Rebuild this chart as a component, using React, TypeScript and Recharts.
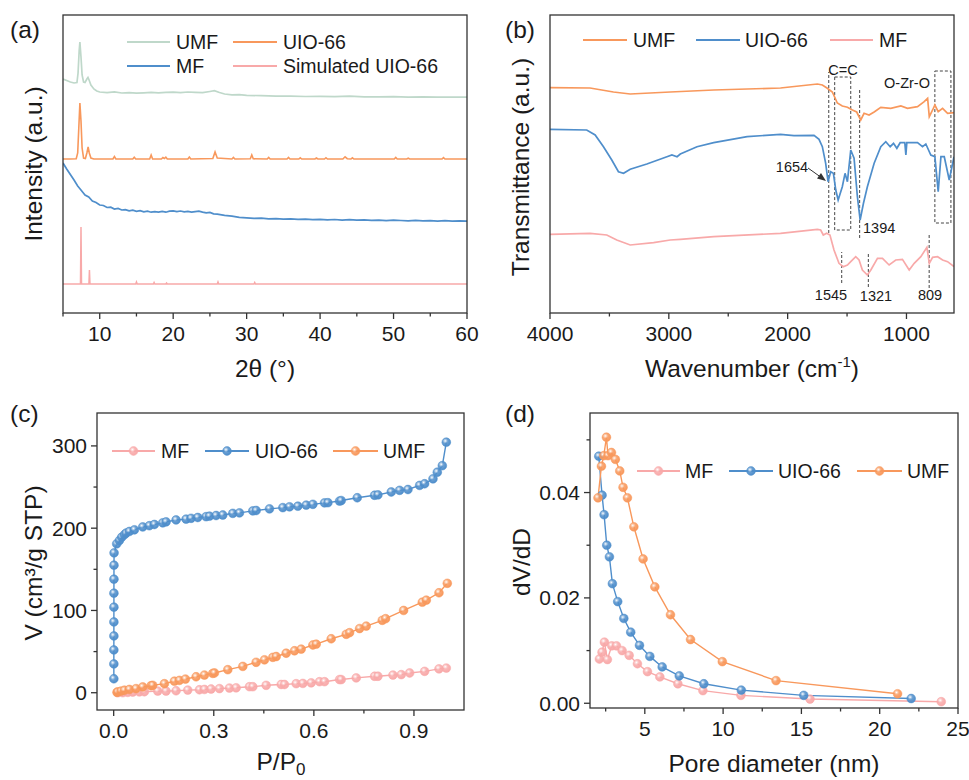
import React from 'react';
import { LineChart, Line, XAxis, YAxis, ReferenceLine, ReferenceArea } from 'recharts';

const FONT = '"Liberation Sans", Arial, Helvetica, sans-serif';
const INK = '#1a1a1a';
const AXIS = '#333';

const GREEN = '#bfd8ca';
const ORANGE = '#f8985c';
const BLUE = '#4f8ecb';
const PINK = '#f8a9a9';

// (a) XRD patterns: [2theta, intensity a.u.]
const xrdUMF = [
  [5, 234], [5.5, 232.5], [6, 231], [6.5, 230], [6.9, 230.5], [7.05, 240], [7.2, 262], [7.3, 271], [7.45, 256],
  [7.6, 238], [7.8, 231], [8.0, 230.5], [8.25, 234], [8.4, 235.5], [8.55, 233], [8.8, 228], [9.2, 224], [9.6, 222],
  [10, 221], [11, 220.3], [12, 221.2], [13, 220], [14, 220.4], [15, 219.8], [16, 220.2], [17, 220.6], [18, 220.2],
  [19, 220.7], [20, 220.9], [21, 220.4], [22, 221], [23, 220.6], [24, 220.3], [25, 221.5], [25.6, 222.3], [26.3, 220.5],
  [27, 219], [28, 218.2], [29, 218.4], [30, 217.6], [32, 217.4], [34, 216.8], [36, 216.9], [38, 216.5], [40, 216.7],
  [42, 216.3], [44, 216.8], [46, 216.1], [48, 216.2], [50, 216.4], [52, 215.9], [54, 216.1], [56, 215.8], [58, 216], [60, 215.8],
];
const xrdUIO = [
  [5, 154], [6, 154], [6.8, 154.3], [7.0, 160], [7.15, 185], [7.3, 210], [7.45, 192], [7.6, 165], [7.8, 155], [8.05, 154.5],
  [8.25, 160], [8.42, 166], [8.58, 160], [8.8, 155], [9.2, 154], [11.8, 154], [12.0, 156.5], [12.2, 154], [14.5, 154],
  [14.7, 155.8], [14.9, 154], [16.8, 154], [17.0, 158], [17.2, 154], [18.4, 154], [18.6, 155.5], [18.8, 154.5], [19.0, 155.8],
  [19.2, 154], [22.0, 154], [22.2, 156], [22.4, 154], [25.4, 154.5], [25.7, 161], [26.0, 155], [28.0, 154], [28.2, 155.5],
  [28.4, 154], [30.5, 154.2], [30.7, 158], [30.9, 154.2], [32.8, 154], [33.0, 155.6], [33.2, 154], [35.5, 154], [35.7, 155.5],
  [35.9, 154], [37.1, 154], [37.3, 155.2], [37.5, 154], [39.3, 154], [39.5, 155], [39.7, 154], [40.6, 154], [40.8, 155.3],
  [41.0, 154], [43.1, 154], [43.4, 156.2], [43.7, 154.3], [44.2, 154], [44.4, 155.2], [44.6, 154], [50.1, 154], [50.3, 155.6],
  [50.5, 154], [51.8, 154], [52.0, 154.8], [52.2, 154], [56.6, 154], [56.8, 155.4], [57.0, 154], [60, 154],
];
const xrdMF = [
  [5, 150], [5.5, 144], [6, 138.5], [6.5, 133], [7, 127], [7.5, 122.5], [8, 118], [8.5, 116], [9, 112], [9.5, 110.5],
  [10, 108], [10.5, 107.5], [11, 105.5], [11.5, 105.8], [12, 104], [12.5, 104.6], [13, 103], [13.5, 103.4], [14, 102.2],
  [14.5, 102.8], [15, 101.7], [15.5, 102.3], [16, 101.2], [16.5, 101.8], [17, 100.8], [17.5, 101.4], [18, 100.9],
  [18.5, 101.6], [19, 100.8], [19.5, 101.9], [20, 102.2], [20.5, 101.3], [21, 102], [21.5, 101.2], [22, 101.6],
  [22.5, 100.8], [23, 101.4], [23.5, 101.9], [24, 100.9], [24.5, 100.2], [25, 100.6], [25.5, 99.2], [26, 98.8],
  [27, 97.6], [28, 96.8], [29, 95.6], [30, 95.2], [31, 94.6], [32, 94.9], [33, 94.1], [34, 94.4], [35, 93.8], [36, 94.2],
  [37, 93.6], [38, 93.9], [39, 93.3], [40, 93.7], [41, 93.2], [42, 93.5], [43, 92.9], [44, 93.3], [45, 92.8], [46, 93.1],
  [47, 92.6], [48, 92.9], [49, 92.4], [50, 92.9], [51, 92.5], [52, 92.2], [53, 92.6], [54, 92.1], [55, 92.4], [56, 91.9],
  [57, 92.3], [58, 91.8], [59, 92.1], [60, 91.9],
];
const xrdSim = [
  [5, 29], [7.38, 29], [7.45, 86], [7.52, 29], [8.53, 29], [8.6, 43], [8.67, 29], [14.9, 29], [15.0, 31], [15.1, 29],
  [17.3, 29], [17.4, 30.5], [17.5, 29], [19.0, 29], [19.1, 30], [19.2, 29], [26.0, 29], [26.1, 31], [26.2, 29],
  [31.0, 29], [31.1, 30.5], [31.2, 29], [60, 29],
];

// (b) FTIR: [wavenumber, transmittance a.u.]
const ftirUMF = [
  [4000, 225.3], [3663, 225], [3466, 221], [3325, 219], [2988, 221], [2622, 223], [2060, 225], [1750, 229], [1708, 228],
  [1666, 224.7], [1624, 221], [1582, 210], [1540, 207], [1497, 205.7], [1455, 203], [1419, 201], [1385, 193], [1357, 199.7],
  [1315, 198], [1272, 201], [1216, 205.7], [1132, 204.7], [1047, 207], [991, 204.7], [907, 206.3], [851, 211.3], [822, 214.7],
  [808, 196.3], [780, 203], [761, 208], [733, 201.3], [696, 204.7], [654, 199.7], [600, 200.3],
];
const ftirUIO = [
  [4000, 183.7], [3691, 183], [3620, 178], [3550, 166.3], [3480, 153], [3424, 141.3], [3381, 139.7], [3325, 143.7],
  [3185, 149], [3016, 156.3], [2974, 158], [2931, 156.3], [2903, 159], [2763, 166.3], [2622, 170.3], [2341, 176.3],
  [2060, 178.7], [1947, 177.3], [1778, 177.7], [1736, 173.7], [1708, 166.3], [1680, 149.7], [1660, 131.3], [1638, 141.3],
  [1615, 139.7], [1595, 123], [1575, 113], [1540, 126.3], [1517, 139.7], [1497, 131.3], [1469, 163], [1441, 154.7],
  [1413, 116.3], [1390, 93], [1362, 109.7], [1329, 126.3], [1272, 149.7], [1216, 166.3], [1174, 171.3], [1137, 166.3],
  [1109, 169.7], [1081, 164.7], [1053, 170.3], [1014, 170.3], [1005, 158], [997, 170.3], [907, 170.3], [865, 166.3],
  [837, 169], [795, 158], [761, 156.3], [733, 121.3], [710, 156.3], [682, 156.3], [640, 133], [600, 156.3],
];
const ftirMF = [
  [4000, 78.7], [3663, 79.7], [3522, 78], [3438, 73], [3325, 68], [3128, 70.3], [2988, 73], [2903, 73.7], [2622, 76.3],
  [2060, 79.7], [1750, 83.7], [1722, 83], [1700, 78], [1672, 79.7], [1644, 78], [1610, 63], [1568, 49.7], [1532, 46.3],
  [1497, 48], [1469, 51.3], [1427, 56.3], [1399, 53], [1371, 43], [1329, 38], [1300, 43], [1244, 54.7], [1202, 54.7],
  [1146, 48], [1090, 53], [1034, 53.7], [977, 43], [935, 49.7], [879, 56.3], [828, 65.7], [808, 49.7], [780, 55.7],
  [738, 56.3], [696, 53], [654, 51.3], [600, 46.3],
];

// (c) N2 isotherms: [P/P0, V]
const isoMF = [
  [0.012, 0], [0.027, 0], [0.042, 0.4], [0.057, 0.8], [0.077, 1], [0.092, 1.2], [0.132, 2], [0.157, 2], [0.187, 2.4],
  [0.222, 3.2], [0.257, 3.6], [0.272, 4], [0.292, 4.5], [0.317, 5], [0.347, 5.7], [0.367, 6], [0.407, 7.3], [0.417, 7.3],
  [0.457, 9], [0.502, 10], [0.512, 10], [0.547, 11], [0.567, 11.3], [0.592, 12], [0.617, 13.4], [0.632, 13.4], [0.677, 16],
  [0.682, 16], [0.727, 18], [0.782, 20], [0.792, 20], [0.837, 21.5], [0.862, 22], [0.887, 24], [0.932, 26], [0.975, 29],
  [0.997, 30],
];
const isoUIO = [
  [0.0005, 17], [0.0005, 35], [0.0005, 52], [0.0006, 69], [0.0006, 86], [0.0007, 104], [0.0007, 121], [0.0008, 138],
  [0.0009, 155], [0.0012, 170], [0.009, 181], [0.017, 185], [0.024, 189], [0.032, 192], [0.037, 194], [0.047, 196],
  [0.062, 198], [0.087, 201.5], [0.107, 203], [0.122, 204.5], [0.147, 206.5], [0.157, 207.7], [0.187, 210], [0.217, 211],
  [0.232, 212], [0.252, 213], [0.277, 214], [0.287, 214.6], [0.307, 215.4], [0.327, 216], [0.357, 218], [0.377, 218.6],
  [0.417, 221], [0.427, 221.5], [0.467, 223.5], [0.507, 225], [0.527, 226], [0.552, 226.7], [0.577, 228], [0.597, 229],
  [0.632, 230.8], [0.642, 231], [0.677, 233], [0.682, 233.6], [0.73, 237], [0.782, 240], [0.792, 240.5], [0.832, 244],
  [0.857, 246], [0.882, 247], [0.917, 252], [0.932, 254], [0.957, 260], [0.97, 268], [0.985, 276], [0.997, 304.5],
];
const isoUMF = [
  [0.01, 0.5], [0.012, 1], [0.022, 2], [0.032, 3], [0.047, 4], [0.067, 5], [0.087, 7], [0.112, 8.5], [0.117, 9],
  [0.152, 11], [0.182, 14], [0.197, 15], [0.215, 16.6], [0.247, 19.4], [0.272, 21.5], [0.297, 23.5], [0.302, 24],
  [0.342, 28], [0.387, 32], [0.427, 37], [0.452, 40], [0.477, 43], [0.487, 44], [0.517, 48], [0.542, 51], [0.562, 53],
  [0.597, 58], [0.607, 59], [0.652, 65.6], [0.697, 71], [0.707, 73], [0.737, 78], [0.757, 81], [0.805, 88], [0.815, 90],
  [0.869, 100], [0.925, 110], [0.937, 112.5], [0.975, 121.5], [1.0, 133],
];

// (d) pore size distribution: [D nm, dV/dD]
const psdMF = [
  [2.1, 0.0084], [2.27, 0.0097], [2.42, 0.0116], [2.61, 0.0083], [2.89, 0.0109], [3.19, 0.0109], [3.55, 0.01],
  [4.0, 0.0091], [4.53, 0.0075], [5.17, 0.006], [5.96, 0.005], [7.11, 0.0037], [8.71, 0.0024], [11.14, 0.0015],
  [15.55, 0.0008], [23.93, 0.0003],
];
const psdUIO = [
  [2.06, 0.0469], [2.27, 0.0395], [2.4, 0.0358], [2.57, 0.03], [2.74, 0.0278], [2.93, 0.0227], [3.27, 0.0193],
  [3.66, 0.0161], [4.1, 0.0135], [4.66, 0.011], [5.32, 0.0089], [6.11, 0.0069], [7.2, 0.0052], [8.77, 0.0037],
  [11.16, 0.0025], [15.15, 0.0015], [22.01, 0.0009],
];
const psdUMF = [
  [2.01, 0.039], [2.23, 0.045], [2.38, 0.047], [2.55, 0.0505], [2.65, 0.047], [2.87, 0.0476], [3.12, 0.0463],
  [3.4, 0.0441], [3.61, 0.041], [3.89, 0.039], [4.3, 0.0335], [4.89, 0.0274], [5.64, 0.0221], [6.64, 0.0168],
  [7.92, 0.0121], [9.95, 0.0079], [13.38, 0.0043], [21.14, 0.0018],
];

const ticksA = [5, 10, 15, 20, 25, 30, 35, 40, 45, 50, 55, 60];
const majorA = [10, 20, 30, 40, 50, 60];
const ticksB = [4000, 3500, 3000, 2500, 2000, 1500, 1000];
const majorB = [4000, 3000, 2000, 1000];
const ticksCx = [0, 0.15, 0.3, 0.45, 0.6, 0.75, 0.9];
const majorCx = [0, 0.3, 0.6, 0.9];
const ticksCy = [0, 50, 100, 150, 200, 250, 300];
const majorCy = [0, 100, 200, 300];
const ticksDx = [2.5, 5, 7.5, 10, 12.5, 15, 17.5, 20, 22.5, 25];
const majorDx = [5, 10, 15, 20, 25];
const ticksDy = [0, 0.01, 0.02, 0.03, 0.04, 0.05];
const majorDy = [0, 0.02, 0.04];

const pts = (arr: number[][]) => arr.map(([x, y]) => ({ x, y }));

const bottomTick = (majors: number[], fmt: (v: number) => string) => (p: any) => {
  const v = p.payload.value;
  const major = majors.includes(v);
  return (
    <g>
      <line x1={p.x} y1={p.y} x2={p.x} y2={p.y + (major ? 6 : 3.5)} stroke={AXIS} strokeWidth={1.3} />
      {major && (
        <text x={p.x} y={p.y + 28} textAnchor="middle" fontSize={21} fill={INK} fontFamily={FONT}>
          {fmt(v)}
        </text>
      )}
    </g>
  );
};

const leftTick = (majors: number[], fmt: (v: number) => string) => (p: any) => {
  const v = p.payload.value;
  const major = majors.includes(v);
  return (
    <g>
      <line x1={p.x} y1={p.y} x2={p.x - (major ? 6 : 3.5)} y2={p.y} stroke={AXIS} strokeWidth={1.3} />
      {major && (
        <text x={p.x - 10} y={p.y + 7.5} textAnchor="end" fontSize={21} fill={INK} fontFamily={FONT}>
          {fmt(v)}
        </text>
      )}
    </g>
  );
};

const ball = (grad: string, color: string) => (p: any) => {
  const { cx, cy, index } = p;
  if (cx == null || cy == null) return <g key={index} />;
  return <circle key={index} cx={cx} cy={cy} r={4.4} fill={`url(#${grad})`} stroke={color} strokeWidth={0.5} />;
};

// plot boxes (page pixels) used for the frames
const boxes = [
  [63, 15, 467, 313],
  [550, 15, 954, 313],
  [97, 413, 464, 710],
  [590, 413, 958, 708],
];

export default function App() {
  const dash = { stroke: '#444', strokeWidth: 1, strokeDasharray: '3 2' };
  const text = (x: number, y: number, s: any, size = 19.5, anchor: any = 'start') => (
    <text x={x} y={y} fontSize={size} fill={INK} fontFamily={FONT} textAnchor={anchor}>{s}</text>
  );
  const vtitle = (x: number, y: number, s: any) => (
    <text x={x} y={y} fontSize={24.5} fill={INK} fontFamily={FONT} textAnchor="middle" transform={`rotate(-90 ${x} ${y})`}>{s}</text>
  );
  const legLine = (x1: number, x2: number, y: number, c: string, grad?: string) => (
    <g>
      <line x1={x1} x2={x2} y1={y} y2={y} stroke={c} strokeWidth={1.8} />
      {grad && <circle cx={(x1 + x2) / 2} cy={y} r={4.4} fill={`url(#${grad})`} stroke={c} strokeWidth={0.5} />}
    </g>
  );

  return (
    <div style={{ position: 'absolute', left: 0, top: 0, width: 969, height: 780, background: '#fff' }}>
      <svg width={0} height={0} style={{ position: 'absolute' }}>
        <defs>
          {[['gPink', PINK], ['gBlue', BLUE], ['gOrange', ORANGE]].map(([id, c]) => (
            <radialGradient key={id} id={id} cx="38%" cy="35%" r="65%">
              <stop offset="0%" stopColor="#ffffff" />
              <stop offset="45%" stopColor={c} stopOpacity={0.85} />
              <stop offset="100%" stopColor={c} />
            </radialGradient>
          ))}
        </defs>
      </svg>

      {/* (a) XRD */}
      <div style={{ position: 'absolute', left: 0, top: 0 }}>
        <LineChart width={480} height={390} margin={{ top: 15, right: 13, bottom: 47, left: 63 }}>
          <XAxis type="number" dataKey="x" domain={[5, 60]} ticks={ticksA} interval={0} tickSize={0} tickMargin={0}
            tick={bottomTick(majorA, (v) => String(v))} height={30} axisLine={false} allowDataOverflow />
          <YAxis type="number" domain={[0, 298]} width={0} tick={false} tickLine={false} axisLine={false} allowDataOverflow />
          <Line data={pts(xrdSim)} dataKey="y" stroke={PINK} strokeWidth={1.5} dot={false} isAnimationActive={false} />
          <Line data={pts(xrdMF)} dataKey="y" stroke={BLUE} strokeWidth={1.7} dot={false} isAnimationActive={false} />
          <Line data={pts(xrdUIO)} dataKey="y" stroke={ORANGE} strokeWidth={1.6} dot={false} isAnimationActive={false} />
          <Line data={pts(xrdUMF)} dataKey="y" stroke={GREEN} strokeWidth={1.7} dot={false} isAnimationActive={false} />
        </LineChart>
      </div>

      {/* (b) FTIR */}
      <div style={{ position: 'absolute', left: 480, top: 0 }}>
        <LineChart width={489} height={390} margin={{ top: 15, right: 15, bottom: 47, left: 70 }}>
          <XAxis type="number" dataKey="x" domain={[600, 4000]} reversed ticks={ticksB} interval={0} tickSize={0} tickMargin={0}
            tick={bottomTick(majorB, (v) => String(v))} height={30} axisLine={false} allowDataOverflow />
          <YAxis type="number" domain={[0, 298]} width={0} tick={false} tickLine={false} axisLine={false} allowDataOverflow />
          <ReferenceLine segment={[{ x: 1654, y: 80 }, { x: 1654, y: 241 }]} {...dash} />
          <ReferenceArea x1={1604} x2={1469} y1={83} y2={236} fill="none" {...dash} />
          <ReferenceLine segment={[{ x: 1394, y: 75 }, { x: 1394, y: 223 }]} {...dash} />
          <ReferenceArea x1={761} x2={626} y1={90} y2={242} fill="none" {...dash} />
          <ReferenceLine segment={[{ x: 1545, y: 30 }, { x: 1545, y: 61 }]} {...dash} />
          <ReferenceLine segment={[{ x: 1321, y: 26 }, { x: 1321, y: 61 }]} {...dash} />
          <ReferenceLine segment={[{ x: 809, y: 25 }, { x: 809, y: 80 }]} {...dash} />
          <Line data={pts(ftirMF)} dataKey="y" stroke={PINK} strokeWidth={1.7} dot={false} isAnimationActive={false} />
          <Line data={pts(ftirUIO)} dataKey="y" stroke={BLUE} strokeWidth={1.7} dot={false} isAnimationActive={false} />
          <Line data={pts(ftirUMF)} dataKey="y" stroke={ORANGE} strokeWidth={1.7} dot={false} isAnimationActive={false} />
        </LineChart>
      </div>

      {/* (c) isotherms */}
      <div style={{ position: 'absolute', left: 0, top: 390 }}>
        <LineChart width={480} height={390} margin={{ top: 23, right: 16, bottom: 40, left: 37 }}>
          <XAxis type="number" dataKey="x" domain={[-0.05, 1.05]} ticks={ticksCx} interval={0} tickSize={0} tickMargin={0}
            tick={bottomTick(majorCx, (v) => v.toFixed(1))} height={30} axisLine={false} allowDataOverflow />
          <YAxis type="number" domain={[-21, 340]} ticks={ticksCy} interval={0} tickSize={0} tickMargin={0}
            tick={leftTick(majorCy, (v) => String(v))} width={60} axisLine={false} allowDataOverflow />
          <Line data={pts(isoMF)} dataKey="y" stroke={PINK} strokeWidth={1.4} dot={ball('gPink', PINK)} isAnimationActive={false} />
          <Line data={pts(isoUMF)} dataKey="y" stroke={ORANGE} strokeWidth={1.4} dot={ball('gOrange', ORANGE)} isAnimationActive={false} />
          <Line data={pts(isoUIO)} dataKey="y" stroke={BLUE} strokeWidth={1.4} dot={ball('gBlue', BLUE)} isAnimationActive={false} />
        </LineChart>
      </div>

      {/* (d) pore size distribution */}
      <div style={{ position: 'absolute', left: 480, top: 390 }}>
        <LineChart width={489} height={390} margin={{ top: 23, right: 11, bottom: 42, left: 40 }}>
          <XAxis type="number" dataKey="x" domain={[1.5, 25]} ticks={ticksDx} interval={0} tickSize={0} tickMargin={0}
            tick={bottomTick(majorDx, (v) => String(v))} height={30} axisLine={false} allowDataOverflow />
          <YAxis type="number" domain={[-0.0009, 0.0551]} ticks={ticksDy} interval={0} tickSize={0} tickMargin={0}
            tick={leftTick(majorDy, (v) => v.toFixed(2))} width={70} axisLine={false} allowDataOverflow />
          <Line data={pts(psdMF)} dataKey="y" stroke={PINK} strokeWidth={1.4} dot={ball('gPink', PINK)} isAnimationActive={false} />
          <Line data={pts(psdUIO)} dataKey="y" stroke={BLUE} strokeWidth={1.4} dot={ball('gBlue', BLUE)} isAnimationActive={false} />
          <Line data={pts(psdUMF)} dataKey="y" stroke={ORANGE} strokeWidth={1.4} dot={ball('gOrange', ORANGE)} isAnimationActive={false} />
        </LineChart>
      </div>

      {/* frames, titles, legends, annotations */}
      <svg width={969} height={780} style={{ position: 'absolute', left: 0, top: 0, pointerEvents: 'none' }}>
        {boxes.map(([x1, y1, x2, y2], i) => (
          <rect key={i} x={x1} y={y1} width={x2 - x1} height={y2 - y1} fill="none" stroke={AXIS} strokeWidth={1.3} />
        ))}

        {text(10, 38, '(a)', 24.5)}
        {text(505, 38, '(b)', 24.5)}
        {text(10, 422, '(c)', 24.5)}
        {text(505, 422, '(d)', 24.5)}

        {text(265, 377, '2θ (°)', 24.5, 'middle')}
        <text x={752} y={377} fontSize={24.5} fill={INK} fontFamily={FONT} textAnchor="middle">
          Wavenumber (cm<tspan fontSize={15} dy={-10}>-1</tspan><tspan dy={10}>)</tspan>
        </text>
        <text x={281} y={770} fontSize={24.5} fill={INK} fontFamily={FONT} textAnchor="middle">
          P/P<tspan fontSize={17} dy={5}>0</tspan>
        </text>
        {text(774, 772, 'Pore diameter (nm)', 24.5, 'middle')}

        {vtitle(42, 164, 'Intensity (a.u.)')}
        {vtitle(529, 167, 'Transmittance (a.u.)')}
        {vtitle(42, 563, 'V (cm³/g STP)')}
        {vtitle(530, 562, 'dV/dD')}

        {/* legend (a) */}
        {legLine(127, 170, 42, GREEN)}
        {text(176, 48.5, 'UMF')}
        {legLine(233, 277, 42, ORANGE)}
        {text(283, 48.5, 'UIO-66')}
        {legLine(127, 170, 66, BLUE)}
        {text(176, 72.5, 'MF')}
        {legLine(233, 277, 66, PINK)}
        {text(283, 72.5, 'Simulated UIO-66')}

        {/* legend (b) */}
        {legLine(583, 627, 40, ORANGE)}
        {text(633, 47, 'UMF')}
        {legLine(696, 740, 40, BLUE)}
        {text(745, 47, 'UIO-66')}
        {legLine(830, 873, 40, PINK)}
        {text(879, 47, 'MF')}

        {/* annotations (b) */}
        {text(843, 75, 'C=C', 14.5, 'middle')}
        {text(907, 88, 'O-Zr-O', 14.5, 'middle')}
        {text(792, 172, '1654', 14.5, 'middle')}
        {text(863, 233, '1394', 14.5)}
        {text(831, 300, '1545', 14.5, 'middle')}
        {text(876, 301, '1321', 14.5, 'middle')}
        {text(930, 300, '809', 14.5, 'middle')}
        <line x1={808} y1={168} x2={822} y2={178} stroke="#333" strokeWidth={1} />
        <polygon points="826,181 817,178.5 821,173" fill="#333" />

        {/* legend (c) */}
        {legLine(112, 155, 451, PINK, 'gPink')}
        {text(161, 458, 'MF')}
        {legLine(205, 249, 451, BLUE, 'gBlue')}
        {text(255, 458, 'UIO-66')}
        {legLine(333, 378, 451, ORANGE, 'gOrange')}
        {text(383, 458, 'UMF')}

        {/* legend (d) */}
        {legLine(637, 680, 471, PINK, 'gPink')}
        {text(685, 478, 'MF')}
        {legLine(729, 773, 471, BLUE, 'gBlue')}
        {text(778, 478, 'UIO-66')}
        {legLine(857, 902, 471, ORANGE, 'gOrange')}
        {text(907, 478, 'UMF')}
      </svg>
    </div>
  );
}
